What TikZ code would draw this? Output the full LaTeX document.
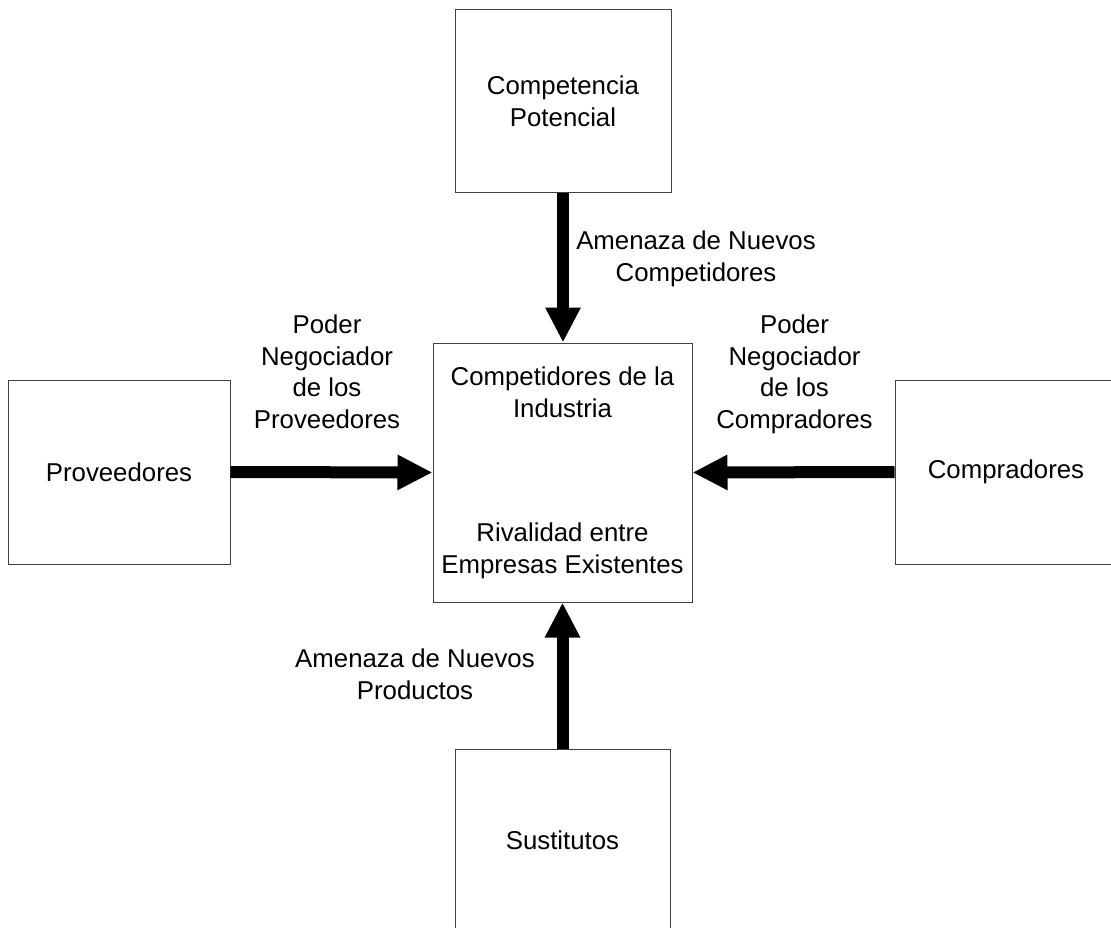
\documentclass[tikz,border=0pt]{standalone}
\usepackage{fontspec}
\setmainfont{Liberation Sans}
\usetikzlibrary{arrows.meta}

\tikzset{
  box/.style={draw=black!75, line width=1pt, fill=white, inner sep=0pt, align=center},
  lbl/.style={inner sep=0pt, align=center, anchor=base},
  force/.style={line width=12pt, -{Triangle[width=33pt,length=35pt]}},
}

\begin{document}
\begin{tikzpicture}[x=1pt, y=-1pt, font=\fontsize{25.8}{31.5}\selectfont]
  \useasboundingbox (0,0) rectangle (1111,928);

  % the five forces
  \node[box, minimum width=259pt, minimum height=259pt] (ind) at (562.5,472.5) {};
  \node[box, minimum width=216pt, minimum height=183pt] (pot) at (563,101.5) {Competencia\\Potencial};
  \node[box, minimum width=222pt, minimum height=184pt] (prov) at (119,472) {Proveedores};
  \node[box, minimum width=222pt, minimum height=184pt] (comp) at (1006,472) {Compradores};
  \node[box, minimum width=215pt, minimum height=183pt] (sust) at (562.5,840.5) {Sustitutos};

  % texts inside the industry box (positioned by their last baseline)
  \node[lbl] (indA) at (562.5,417) {Competidores de la\\Industria};
  \node[lbl] (indB) at (562.5,573) {Rivalidad entre\\Empresas Existentes};

  % pressure arrows
  \draw[force] (pot.south) -- (pot.south |- ind.north);
  \draw[force] (sust.north) -- (sust.north |- ind.south);
  \draw[force] (prov.east) -- (ind.west);
  \draw[force] (comp.west) -- (ind.east);

  % arrow captions (positioned by their last baseline)
  \node[lbl] (lpot) at (696,281) {Amenaza de Nuevos\\Competidores};
  \node[lbl] (lsust) at (415,699) {Amenaza de Nuevos\\Productos};
  \node[lbl] (lprov) at (327,428) {Poder\\Negociador\\de los\\Proveedores};
  \node[lbl] (lcomp) at (794.5,428) {Poder\\Negociador\\de los\\Compradores};
\end{tikzpicture}
\end{document}
